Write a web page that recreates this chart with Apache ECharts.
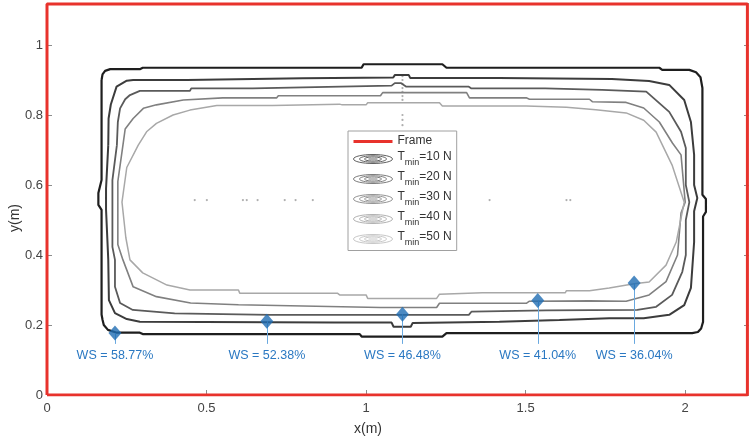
<!DOCTYPE html>
<html><head><meta charset="utf-8">
<script src="https://cdn.jsdelivr.net/npm/echarts@6/dist/echarts.min.js"></script>
<style>html,body{margin:0;padding:0;background:#fff}#c{width:749px;height:440px}</style>
</head><body><div id="c"></div>
<script>
// ---------- data ----------
const xTicks = [0, 0.5, 1, 1.5, 2];
const yTicks = [0, 0.2, 0.4, 0.6, 0.8, 1];
const frame = [[0,0],[2.195,0],[2.195,1.117],[0,1.117],[0,0]];
const contour10 = [[0.171,0.900],[0.174,0.916],[0.182,0.926],[0.198,0.931],[0.291,0.931],[0.300,0.935],[0.986,0.935],[0.992,0.945],[1.239,0.945],[1.252,0.935],[1.919,0.935],[1.928,0.929],[2.013,0.929],[2.034,0.922],[2.048,0.908],[2.054,0.877],[2.054,0.572],[2.065,0.560],[2.065,0.523],[2.056,0.510],[2.056,0.209],[2.050,0.190],[2.040,0.180],[2.022,0.177],[1.252,0.177],[1.239,0.167],[0.986,0.167],[0.980,0.174],[0.300,0.174],[0.291,0.178],[0.219,0.178],[0.191,0.186],[0.178,0.200],[0.174,0.215],[0.171,0.230],[0.171,0.529],[0.161,0.543],[0.161,0.577],[0.171,0.614],[0.171,0.900]];
const contour20 = [[0.192,0.714],[0.193,0.790],[0.200,0.830],[0.218,0.881],[0.250,0.898],[0.270,0.900],[0.438,0.900],[0.440,0.905],[0.801,0.905],[0.805,0.907],[1.085,0.907],[1.090,0.914],[1.134,0.914],[1.138,0.906],[1.416,0.906],[1.420,0.903],[1.770,0.903],[1.774,0.900],[1.887,0.897],[1.950,0.886],[1.997,0.843],[2.018,0.780],[2.028,0.686],[2.028,0.600],[2.038,0.563],[2.028,0.525],[2.028,0.437],[2.018,0.306],[1.997,0.257],[1.950,0.229],[1.870,0.219],[1.762,0.219],[1.606,0.214],[1.418,0.209],[1.414,0.206],[1.146,0.206],[1.140,0.195],[1.086,0.195],[1.080,0.207],[0.900,0.207],[0.895,0.209],[0.291,0.209],[0.250,0.217],[0.213,0.234],[0.194,0.271],[0.192,0.386],[0.185,0.530],[0.185,0.590],[0.192,0.714]];
const contour30 = [[0.219,0.714],[0.222,0.780],[0.229,0.819],[0.245,0.845],[0.260,0.857],[0.291,0.869],[0.448,0.869],[0.452,0.876],[0.645,0.876],[0.650,0.881],[0.920,0.881],[0.925,0.884],[1.080,0.884],[1.090,0.891],[1.110,0.891],[1.126,0.881],[1.322,0.881],[1.330,0.876],[1.561,0.876],[1.565,0.872],[1.740,0.872],[1.745,0.867],[1.878,0.867],[1.950,0.809],[1.987,0.752],[2.002,0.706],[2.002,0.600],[2.013,0.551],[2.002,0.500],[2.002,0.400],[1.991,0.352],[1.959,0.286],[1.909,0.252],[1.850,0.243],[1.565,0.242],[1.561,0.238],[1.330,0.238],[1.322,0.229],[0.700,0.229],[0.695,0.233],[0.400,0.233],[0.269,0.243],[0.229,0.263],[0.213,0.309],[0.213,0.386],[0.205,0.423],[0.205,0.614],[0.219,0.714]];
const contour40 = [[0.238,0.714],[0.245,0.760],[0.270,0.790],[0.302,0.819],[0.343,0.829],[0.427,0.843],[0.551,0.849],[0.720,0.849],[0.725,0.855],[1.045,0.855],[1.052,0.864],[1.315,0.864],[1.324,0.849],[1.502,0.849],[1.512,0.845],[1.700,0.845],[1.709,0.838],[1.815,0.836],[1.870,0.820],[1.919,0.780],[1.960,0.720],[1.987,0.686],[2.000,0.551],[1.987,0.520],[1.976,0.400],[1.940,0.324],[1.887,0.286],[1.815,0.268],[1.700,0.269],[1.512,0.268],[1.502,0.262],[1.230,0.262],[1.221,0.250],[1.045,0.250],[1.040,0.254],[0.600,0.258],[0.450,0.263],[0.343,0.281],[0.270,0.309],[0.238,0.386],[0.222,0.430],[0.222,0.610],[0.238,0.714]];
const contour50 = [[0.286,0.714],[0.312,0.752],[0.343,0.776],[0.395,0.800],[0.448,0.814],[0.532,0.827],[0.707,0.827],[0.710,0.831],[0.917,0.831],[0.925,0.829],[1.000,0.829],[1.005,0.835],[1.230,0.835],[1.239,0.826],[1.502,0.826],[1.506,0.822],[1.628,0.822],[1.632,0.817],[1.720,0.815],[1.815,0.806],[1.870,0.785],[1.909,0.751],[1.959,0.657],[1.997,0.551],[1.972,0.437],[1.940,0.371],[1.887,0.323],[1.840,0.318],[1.762,0.306],[1.700,0.298],[1.628,0.298],[1.624,0.292],[1.365,0.292],[1.360,0.288],[1.230,0.288],[1.221,0.276],[1.005,0.276],[1.000,0.286],[0.917,0.286],[0.910,0.291],[0.604,0.291],[0.600,0.300],[0.448,0.300],[0.376,0.314],[0.300,0.349],[0.260,0.386],[0.247,0.450],[0.235,0.551],[0.250,0.650],[0.286,0.714]];
const contourNames = ['T_min=10 N','T_min=20 N','T_min=30 N','T_min=40 N','T_min=50 N'];
const wsX = [0.213, 0.689, 1.114, 1.538, 1.840];
const wsY = [0.177, 0.211, 0.231, 0.270, 0.320];
const wsText = ['WS = 58.77%','WS = 52.38%','WS = 46.48%','WS = 41.04%','WS = 36.04%'];
const dotsX = [0.463,0.501,0.614,0.626,0.660,0.745,0.779,0.833,1.387,1.628,1.640,1.114,1.114,1.114,1.114,1.114,1.114,1.114,1.114,1.114,1.114];
const dotsY = [0.557,0.557,0.557,0.557,0.557,0.557,0.557,0.557,0.557,0.557,0.557,0.911,0.900,0.889,0.877,0.866,0.854,0.843,0.800,0.786,0.771];

// ---------- styling ----------
const FONT = '"Liberation Sans", Arial, Helvetica, sans-serif';
const contours = [contour10, contour20, contour30, contour40, contour50];
const lineColors = ['#1e1e1e', '#3c3c3c', '#5a5a5a', '#808080', '#a8a8a8'];
const lineWidths = [2.2, 2, 1.8, 1.6, 1.5];
const iconColors = ['#606060', '#7c7c7c', '#949494', '#b2b2b2', '#c8c8c8'];
const stemEndY = 0.146;

function ell(cx, cy, rx, ry) {
  const k = 0.5523;
  return `M${cx-rx},${cy} C${cx-rx},${cy-k*ry} ${cx-k*rx},${cy-ry} ${cx},${cy-ry} C${cx+k*rx},${cy-ry} ${cx+rx},${cy-k*ry} ${cx+rx},${cy} C${cx+rx},${cy+k*ry} ${cx+k*rx},${cy+ry} ${cx},${cy+ry} C${cx-k*rx},${cy+ry} ${cx-rx},${cy+k*ry} ${cx-rx},${cy} Z `;
}
const iconPath = 'path://' + ell(19.5,4.5,19.5,4.5) + ell(19.5,4.5,13.5,3.2) + ell(19.5,4.5,8.5,2) + 'M15,4.5 L24,4.5';
const frameIcon = 'path://M0,0 L0,0.01 M0,4.5 L39,4.5 M39,9 L39,9.01';

function tickFmt(list) {
  return v => list.some(t => Math.abs(t - v) < 1e-6) ? String(+v.toFixed(2)) : '';
}

const series = [];
contours.forEach((c, i) => {
  series.push({
    name: contourNames[i], type: 'line', data: c, showSymbol: false, symbol: 'none',
    lineStyle: { color: lineColors[i], width: lineWidths[i] }, itemStyle: { color: lineColors[i] },
    z: 3, silent: true
  });
});
series.push({
  name: 'dots', type: 'scatter', data: dotsX.map((x, i) => [x, dotsY[i]]),
  symbolSize: 2.2, itemStyle: { color: '#9a9a9a' }, silent: true, z: 2
});
series.push({
  name: 'WS', type: 'scatter', data: wsX.map((x, i) => [x, wsY[i]]),
  symbol: 'diamond', symbolSize: [13, 15], itemStyle: { color: '#1f6db3' }, z: 6,
  markLine: {
    silent: true, symbol: ['none', 'none'], animation: false,
    lineStyle: { color: '#6aa9e0', width: 1, type: 'solid' },
    label: { show: true, position: 'end', distance: 5, formatter: '{b}', color: '#2a78c2', fontSize: 12.5, fontFamily: FONT },
    emphasis: { disabled: true },
    data: wsX.map((x, i) => [{ coord: [x, wsY[i]], name: wsText[i] }, { coord: [x, stemEndY] }])
  }
});
series.push({
  name: 'Frame', type: 'line', data: frame, showSymbol: false, symbol: 'none',
  lineStyle: { color: '#e8322c', width: 3 }, itemStyle: { color: '#e8322c' }, z: 10, silent: true
});

const legendData = [{
  name: 'Frame', icon: frameIcon,
  itemStyle: { color: 'rgba(0,0,0,0)', borderColor: '#e8322c', borderWidth: 3 }
}].concat(contourNames.map((n, i) => ({
  name: n, icon: iconPath,
  itemStyle: { color: 'rgba(0,0,0,0)', borderColor: iconColors[i], borderWidth: 1 }
})));

const option = {
  animation: false,
  backgroundColor: '#ffffff',
  grid: { left: 47, right: 0, top: 3, bottom: 45, containLabel: false, outerBoundsMode: 'none' },
  legend: {
    data: legendData, orient: 'vertical', left: 348, top: 131,
    itemWidth: 39, itemHeight: 9, itemGap: 3, symbolKeepAspect: false,
    padding: [4, 5, 3, 4], backgroundColor: '#ffffff',
    borderColor: '#a0a0a0', borderWidth: 1, borderRadius: 0,
    selectedMode: false,
    formatter: name => {
      if (name === 'Frame') return '{m|Frame}';
      const rest = name.replace('T_min', '');
      return '{m|T}{s|min}{m|' + rest + '}';
    },
    textStyle: {
      fontFamily: FONT, color: '#333', fontSize: 12,
      rich: {
        m: { fontFamily: FONT, fontSize: 12, color: '#333', lineHeight: 13, verticalAlign: 'top' },
        s: { fontFamily: FONT, fontSize: 9, color: '#333', lineHeight: 17, verticalAlign: 'bottom' }
      }
    }
  },
  xAxis: [{
    type: 'value', min: 0, max: 2.2, interval: 0.5, position: 'bottom',
    axisLine: { show: false },
    axisTick: { show: true, inside: true, length: 5, lineStyle: { color: '#8c8c8c' } },
    axisLabel: { color: '#444', fontSize: 13, fontFamily: FONT, margin: 7, formatter: tickFmt(xTicks) },
    splitLine: { show: false },
    name: 'x(m)', nameLocation: 'middle', nameGap: 27, nameMoveOverlap: false,
    nameTextStyle: { color: '#333', fontSize: 14, fontFamily: FONT, padding: [0, 60, 0, 0] }
  }],
  yAxis: [{
    type: 'value', min: 0, max: 1.12, interval: 0.2, position: 'left',
    axisLine: { show: false },
    axisTick: { show: true, inside: true, length: 5, lineStyle: { color: '#8c8c8c' } },
    axisLabel: { color: '#444', fontSize: 13, fontFamily: FONT, margin: 4, formatter: tickFmt(yTicks) },
    splitLine: { show: false },
    name: 'y(m)', nameLocation: 'middle', nameGap: 25, nameRotate: 90, nameMoveOverlap: false,
    nameTextStyle: { color: '#333', fontSize: 14, fontFamily: FONT, padding: [0, 38, 0, 0] }
  }, {
    type: 'value', min: 0, max: 1.12, interval: 0.2, position: 'right',
    axisLine: { show: false },
    axisTick: { show: true, inside: true, length: 5, lineStyle: { color: '#8c8c8c' } },
    axisLabel: { show: false }, splitLine: { show: false }
  }],
  series: series
};
const chart = echarts.init(document.getElementById('c'), null, { renderer: 'canvas' });
chart.setOption(option);
</script></body></html>
